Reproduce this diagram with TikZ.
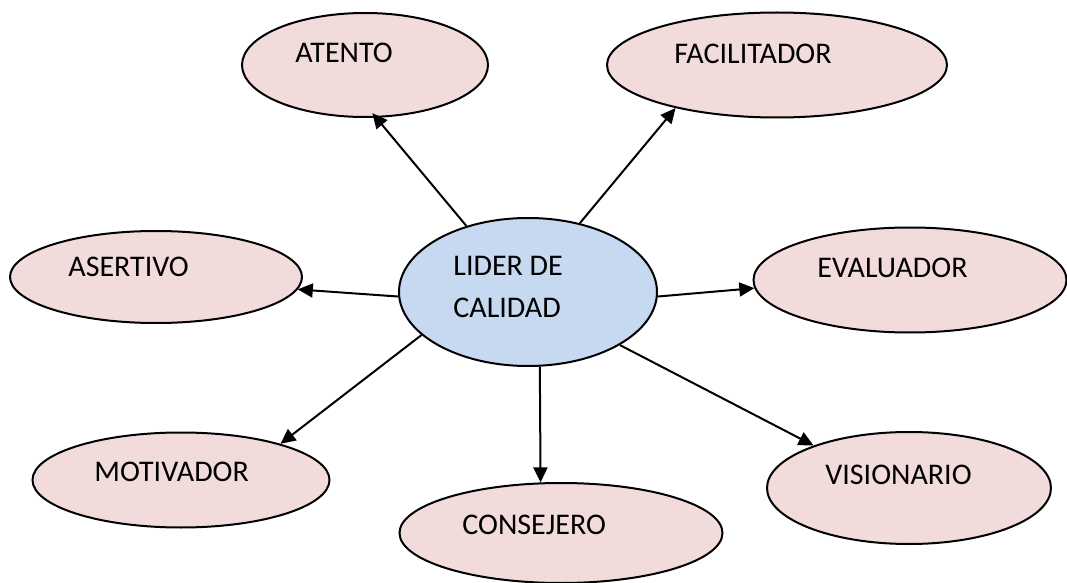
\documentclass[tikz,border=0pt]{standalone}
\usepackage{fontspec}
\setmainfont{Carlito}
\usepackage{tikz}
\usetikzlibrary{positioning,arrows.meta,shapes.geometric}
\definecolor{liderblue}{RGB}{198,217,241}
\definecolor{rolepink}{RGB}{242,220,219}

\begin{document}
\begin{tikzpicture}[
  x=0.5pt, y=-0.5pt,
  oval/.style={ellipse, draw, line width=1pt, fill=rolepink, inner sep=0pt},
  word/.style={anchor=base west, inner sep=0pt, font=\fontsize{15}{20}\selectfont},
  arrow/.style={-{Triangle[length=7.5pt,width=7pt]}, line width=1pt}
]
\useasboundingbox (0,0) rectangle (1067,583);

% Nodes
\node[oval, fill=liderblue, minimum width=129pt, minimum height=74pt] (lider) at (528,292) {};
\node[oval, minimum width=123pt, minimum height=52pt] (atento) at (365,65) {};
\node[oval, minimum width=170pt, minimum height=52.5pt] (facil) at (777,65) {};
\node[oval, minimum width=146pt, minimum height=46pt] (asert) at (156,277) {};
\node[oval, minimum width=156.5pt, minimum height=52.5pt] (evalu) at (910,280) {};
\node[oval, minimum width=148.5pt, minimum height=47.5pt] (motiv) at (181,480) {};
\node[oval, minimum width=161.5pt, minimum height=50pt] (consej) at (561,533) {};
\node[oval, minimum width=142pt, minimum height=56pt] (vision) at (909,488) {};

% Labels
\node[word] (t-lider1) at (453,276) {LIDER DE};
\node[word] (t-lider2) at (453,317) {CALIDAD};
\node[word] (t-atento) at (295,63) {ATENTO};
\node[word] (t-facil) at (674,64) {FACILITADOR};
\node[word] (t-asert) at (68,277) {ASERTIVO};
\node[word] (t-evalu) at (817,278) {EVALUADOR};
\node[word] (t-motiv) at (94,481) {MOTIVADOR};
\node[word] (t-consej) at (462,534) {CONSEJERO};
\node[word] (t-vision) at (825,484) {VISIONARIO};

% Arrows
\draw[arrow, shorten >=-3pt] (lider.133) -- (atento.282);
\draw[arrow] (lider.53) -- (facil.203);
\draw[arrow] (lider.182) -- (asert.355);
\draw[arrow] (lider.358) -- (evalu.183);
\draw[arrow] (lider.202) -- (motiv.20);
\draw[arrow] (lider.279) -- (consej.112);
\draw[arrow] (lider.330) -- (vision.156);

\end{tikzpicture}
\end{document}
